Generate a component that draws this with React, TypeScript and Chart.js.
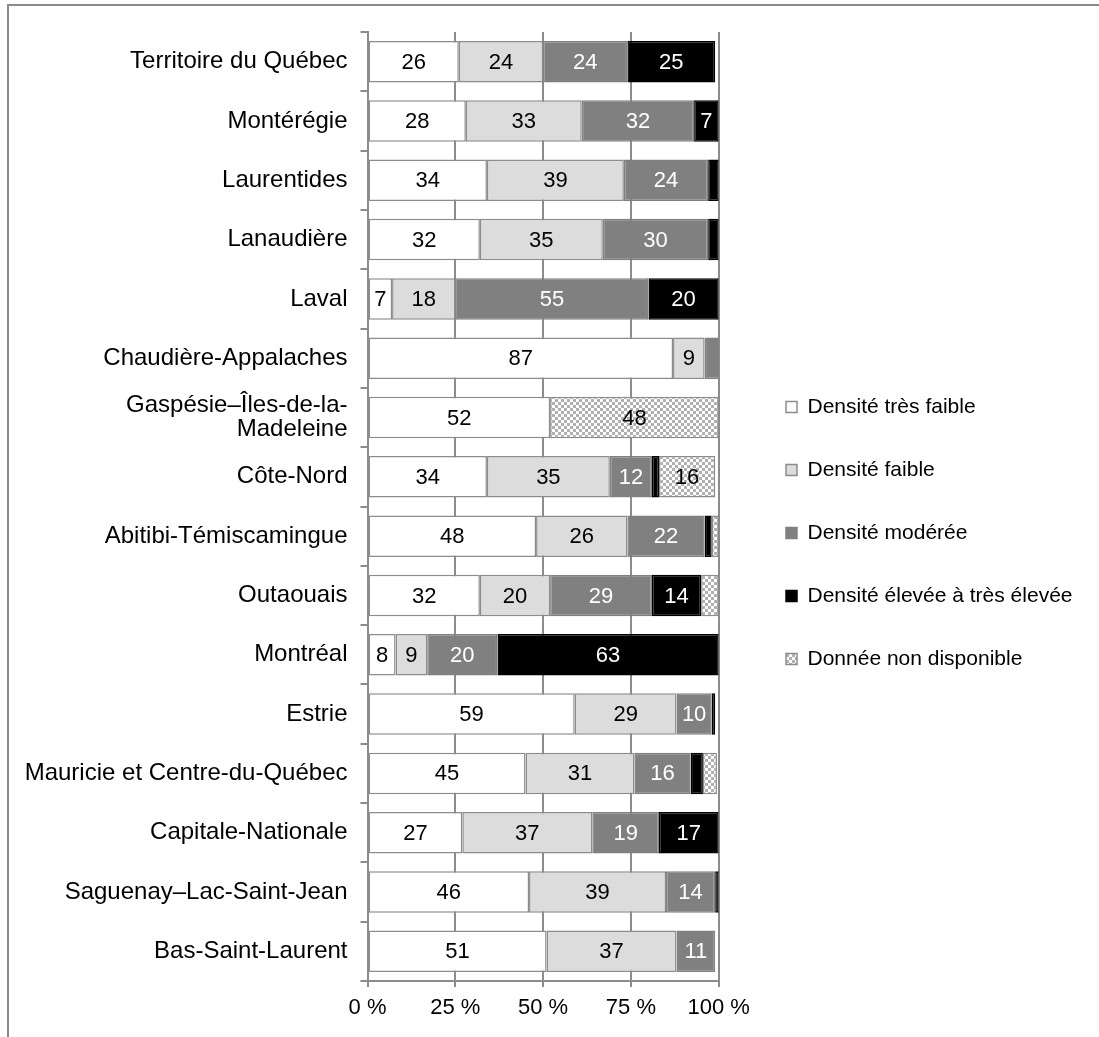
import React, { useEffect, useRef } from 'react';
import { Chart, registerables } from 'chart.js';

Chart.register(...registerables);

// Regions (top to bottom)
const regions: (string | string[])[] = [
  'Territoire du Québec',
  'Montérégie',
  'Laurentides',
  'Lanaudière',
  'Laval',
  'Chaudière-Appalaches',
  ['Gaspésie–Îles-de-la-', 'Madeleine'],
  'Côte-Nord',
  'Abitibi-Témiscamingue',
  'Outaouais',
  'Montréal',
  'Estrie',
  'Mauricie et Centre-du-Québec',
  'Capitale-Nationale',
  'Saguenay–Lac-Saint-Jean',
  'Bas-Saint-Laurent',
];

const seriesNames = [
  'Densité très faible',
  'Densité faible',
  'Densité modérée',
  'Densité élevée à très élevée',
  'Donnée non disponible',
];

// Share of population (%) per density class
const tresFaible = [26, 28, 34, 32, 7, 87, 52, 34, 48, 32, 8, 59, 45, 27, 46, 51];
const faible = [24, 33, 39, 35, 18, 9, 0, 35, 26, 20, 9, 29, 31, 37, 39, 37];
const moderee = [24, 32, 24, 30, 55, 5, 0, 12, 22, 29, 20, 10, 16, 19, 14, 11];
const elevee = [25, 7, 3, 3, 20, 0, 0, 2, 2, 14, 63, 1, 3.5, 17, 1, 0];
const nonDisponible = [0, 0.8, 0, 0, 0.8, 0, 48, 16, 2, 5, 0.8, 0, 4, 0.8, 0, 0];

const xTickValues = [0, 25, 50, 75, 100];

const FONT = "'Liberation Sans', Arial, Helvetica, sans-serif";
const GRID = '#8c8c8c';
const LABEL_MIN = 6;

// Layout targets (px on the canvas)
const CANVAS_W = 1099;
const CANVAS_H = 1034;
const PLOT_LEFT = 367.5;
const PLOT_RIGHT = 718.7;
const LEGEND_GAP = 25.3;
const LEGEND_PAD = 42;
const LEGEND_BOX = 11;
const LEGEND_FONT = 21;

function checkerPattern(): CanvasPattern | string {
  const c = document.createElement('canvas');
  c.width = 6;
  c.height = 6;
  const g = c.getContext('2d');
  if (!g) return '#d0d0d0';
  g.fillStyle = '#ffffff';
  g.fillRect(0, 0, 6, 6);
  g.fillStyle = '#b0b0b0';
  g.fillRect(0, 0, 3, 3);
  g.fillRect(3, 3, 3, 3);
  const p = g.createPattern(c, 'repeat');
  return p || '#d0d0d0';
}

const labelColors = ['#000000', '#000000', '#ffffff', '#ffffff', '#000000'];

const segmentLabels = {
  id: 'segmentLabels',
  afterDatasetsDraw(chart: any) {
    const ctx = chart.ctx as CanvasRenderingContext2D;
    ctx.save();
    ctx.font = `22px ${FONT}`;
    ctx.textAlign = 'center';
    ctx.textBaseline = 'middle';
    chart.data.datasets.forEach((ds: any, di: number) => {
      const meta = chart.getDatasetMeta(di);
      meta.data.forEach((bar: any, i: number) => {
        const v = ds.data[i] as number;
        if (v == null || v < LABEL_MIN) return;
        const { x, y, base } = bar.getProps(['x', 'y', 'base'], true);
        ctx.fillStyle = labelColors[di];
        ctx.fillText(String(v), (x + base) / 2, y + 1);
      });
    });
    ctx.restore();
  },
};

export default function App() {
  const canvasRef = useRef<HTMLCanvasElement | null>(null);

  useEffect(() => {
    const canvas = canvasRef.current;
    if (!canvas) return;
    Chart.defaults.font.family = FONT;
    Chart.defaults.color = '#000000';

    // width the legend will claim, so the plot keeps its right edge
    const m = document.createElement('canvas').getContext('2d');
    let maxText = 260;
    if (m) {
      m.font = `${LEGEND_FONT}px ${FONT}`;
      maxText = Math.max(...seriesNames.map((s) => m.measureText(s).width));
    }
    const legendW = LEGEND_PAD + LEGEND_BOX + LEGEND_FONT / 2 + maxText + 10;
    const padRight = Math.max(0, CANVAS_W - PLOT_RIGHT - LEGEND_GAP - legendW);

    const pattern = checkerPattern();
    const values = [tresFaible, faible, moderee, elevee, nonDisponible];
    const fills: any[] = ['#ffffff', '#dcdcdc', '#808080', '#000000', pattern];
    const borders = [GRID, GRID, '#808080', '#000000', GRID];

    const chart = new Chart(canvas, {
      type: 'bar',
      data: {
        labels: regions as any,
        datasets: values.map((data, i) => ({
          label: seriesNames[i],
          data,
          backgroundColor: fills[i],
          borderColor: borders[i],
          borderWidth: 1.5,
          borderSkipped: false,
          barPercentage: 0.7,
          categoryPercentage: 1,
        })),
      },
      options: {
        indexAxis: 'y',
        responsive: false,
        animation: false,
        events: [],
        layout: { padding: { top: 32, left: 0, right: padRight, bottom: 0 } },
        plugins: {
          tooltip: { enabled: false },
          legend: {
            position: 'right',
            align: 'center',
            maxWidth: 600,
            labels: {
              boxWidth: LEGEND_BOX,
              boxHeight: LEGEND_BOX,
              padding: LEGEND_PAD,
              color: '#000000',
              font: { size: LEGEND_FONT, family: FONT },
            },
          },
        },
        scales: {
          x: {
            stacked: true,
            min: 0,
            max: 100,
            afterBuildTicks: (s: any) => {
              s.ticks = xTickValues.map((v) => ({ value: v }));
            },
            afterFit: (s: any) => {
              s.height = 53;
            },
            grid: { color: GRID, lineWidth: 2, tickLength: 6, drawTicks: true },
            border: { display: true, color: GRID, width: 2 },
            ticks: {
              font: { size: 22, family: FONT },
              color: '#000000',
              padding: 8,
              callback: (v: any) => `${v} %`,
            },
          },
          y: {
            stacked: true,
            afterFit: (s: any) => {
              s.width = PLOT_LEFT;
            },
            grid: {
              display: true,
              drawOnChartArea: false,
              drawTicks: true,
              tickLength: 7,
              color: GRID,
              lineWidth: 2,
              offset: true,
            },
            border: { display: true, color: GRID, width: 2 },
            ticks: {
              autoSkip: false,
              padding: 13,
              color: '#000000',
              font: { size: 24, lineHeight: 1.0, family: FONT },
            },
          },
          legendGap: {
            type: 'linear',
            position: 'right',
            axis: 'y',
            display: true,
            grid: { display: false, drawTicks: false },
            border: { display: false },
            ticks: { display: false },
            afterFit: (s: any) => {
              s.width = LEGEND_GAP;
            },
          },
        },
      } as any,
      plugins: [segmentLabels],
    });

    return () => chart.destroy();
  }, []);

  return (
    <div
      style={{
        position: 'fixed',
        left: 0,
        top: 0,
        width: 1099,
        height: 1037,
        overflow: 'hidden',
        background: '#ffffff',
      }}
    >
      <div
        style={{
          position: 'absolute',
          left: 7,
          top: 4,
          width: 1300,
          height: 1300,
          border: '2px solid #8a8a8a',
        }}
      />
      <canvas
        ref={canvasRef}
        width={CANVAS_W}
        height={CANVAS_H}
        style={{ position: 'absolute', left: 0, top: 0, width: CANVAS_W, height: CANVAS_H, display: 'block' }}
      />
    </div>
  );
}
